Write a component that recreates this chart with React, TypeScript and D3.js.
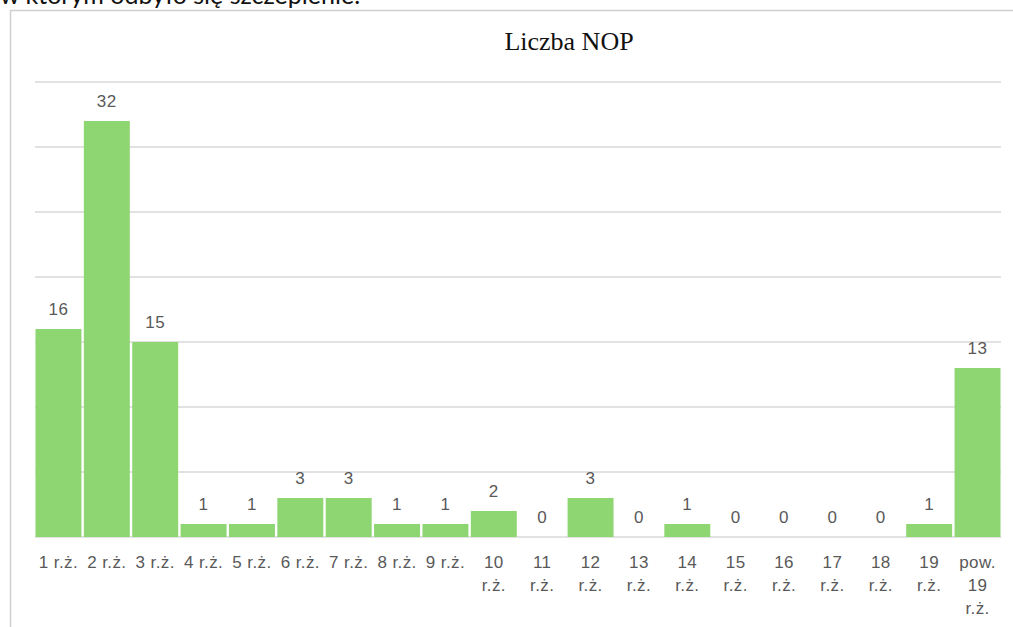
import { useEffect, useRef } from 'react';
import * as d3 from 'd3';

// Age groups (r.ż. = rok życia)
const categories = [
    '1 r.ż.', '2 r.ż.', '3 r.ż.', '4 r.ż.', '5 r.ż.', '6 r.ż.', '7 r.ż.', '8 r.ż.', '9 r.ż.', '10 r.ż.',
    '11 r.ż.', '12 r.ż.', '13 r.ż.', '14 r.ż.', '15 r.ż.', '16 r.ż.', '17 r.ż.', '18 r.ż.', '19 r.ż.', 'pow. 19 r.ż.',
];
const values = [16, 32, 15, 1, 1, 3, 3, 1, 1, 2, 0, 3, 0, 1, 0, 0, 0, 0, 1, 13];
const gridTicks = [0, 5, 10, 15, 20, 25, 30, 35];
const title = 'Liczba NOP';
const cutText = 'w którym odbyło się szczepienie.';

export default function App() {
    const svgRef = useRef<SVGSVGElement>(null);

    useEffect(() => {
        if (!svgRef.current) return;
        const width = 1013;
        const height = 627;
        const margin = { top: 82, right: 12, bottom: 90, left: 35 };

        d3.select(svgRef.current).selectAll('*').remove();
        const svg = d3.select(svgRef.current).attr('width', width).attr('height', height);

        // Text from the page above, cut off by the crop
        svg.append('text')
            .attr('x', 0)
            .attr('y', 4)
            .attr('font-family', 'Lato, sans-serif')
            .attr('font-size', '25px')
            .attr('fill', '#111')
            .text(cutText);

        // Chart frame (left & top edges visible)
        svg.append('line')
            .attr('x1', 10.5).attr('x2', 10.5).attr('y1', 10).attr('y2', height)
            .attr('stroke', '#d0d0d0').attr('stroke-width', 1.5);
        svg.append('line')
            .attr('x1', 10).attr('x2', width).attr('y1', 10.5).attr('y2', 10.5)
            .attr('stroke', '#d0d0d0').attr('stroke-width', 1.5);

        const x = d3.scaleBand<string>()
            .domain(categories)
            .range([margin.left, width - margin.right])
            .paddingInner(0.05)
            .paddingOuter(0.01);

        const y = d3.scaleLinear()
            .domain([0, 35])
            .range([height - margin.bottom, margin.top]);

        // Gridlines
        svg.append('g')
            .selectAll('line')
            .data(gridTicks)
            .enter()
            .append('line')
            .attr('x1', margin.left)
            .attr('x2', width - margin.right)
            .attr('y1', d => y(d))
            .attr('y2', d => y(d))
            .attr('stroke', '#d9d9d9')
            .attr('stroke-width', 1.5);

        // Title
        svg.append('text')
            .attr('x', 569)
            .attr('y', 50)
            .attr('text-anchor', 'middle')
            .attr('font-family', '"Liberation Serif", "Times New Roman", serif')
            .attr('font-size', '26px')
            .attr('fill', '#111')
            .text(title);

        // Bars
        svg.append('g')
            .selectAll('rect')
            .data(values)
            .enter()
            .append('rect')
            .attr('x', (_, i) => x(categories[i])!)
            .attr('y', d => y(d))
            .attr('width', x.bandwidth())
            .attr('height', d => y(0) - y(d))
            .attr('fill', '#8dd672');

        // Value labels
        svg.append('g')
            .selectAll('text')
            .data(values)
            .enter()
            .append('text')
            .attr('x', (_, i) => x(categories[i])! + x.bandwidth() / 2)
            .attr('y', d => y(d) - 14)
            .attr('text-anchor', 'middle')
            .attr('font-family', '"Liberation Sans", Arial, sans-serif')
            .attr('font-size', '17px')
            .attr('letter-spacing', '0.5px')
            .attr('fill', '#595959')
            .text(d => d);

        // Category labels, wrapped to band width
        const maxW = 44;
        const labels = svg.append('g')
            .selectAll('text')
            .data(categories)
            .enter()
            .append('text')
            .attr('x', d => x(d)! + x.bandwidth() / 2)
            .attr('y', 568)
            .attr('text-anchor', 'middle')
            .attr('font-family', '"Liberation Sans", Arial, sans-serif')
            .attr('font-size', '17px')
            .attr('letter-spacing', '0.4px')
            .attr('fill', '#595959');

        labels.each(function (d) {
            const el = d3.select(this);
            const words = d.split(' ');
            const lines: string[] = [];
            let cur = '';
            const probe = el.append('tspan');
            for (const w of words) {
                const test = cur ? cur + ' ' + w : w;
                probe.text(test);
                const len = (probe.node() as SVGTSpanElement).getComputedTextLength();
                if (len > maxW && cur) {
                    lines.push(cur);
                    cur = w;
                } else {
                    cur = test;
                }
            }
            if (cur) lines.push(cur);
            probe.remove();
            const xPos = +el.attr('x');
            lines.forEach((ln, i) => {
                el.append('tspan')
                    .attr('x', xPos)
                    .attr('dy', i === 0 ? 0 : 23)
                    .text(ln);
            });
        });
    }, []);

    return (
        <div style={{ position: 'absolute', left: 0, top: 0, width: 1013, height: 627, background: '#fff', overflow: 'hidden' }}>
            <svg ref={svgRef} style={{ display: 'block' }} />
        </div>
    );
}
